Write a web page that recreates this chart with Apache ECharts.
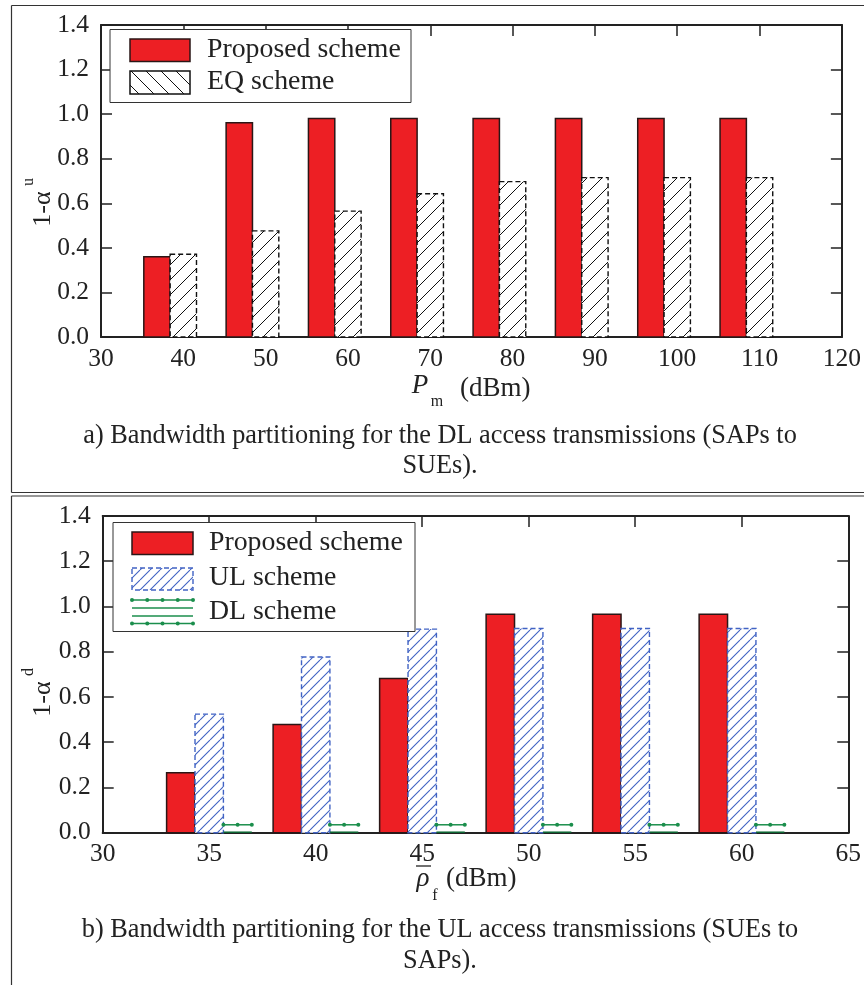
<!DOCTYPE html>
<html>
<head>
<meta charset="utf-8">
<script src="https://cdn.jsdelivr.net/npm/echarts@6/dist/echarts.min.js"></script>
<style>
  html, body { margin: 0; padding: 0; background: #fff; }
  #chart { width: 864px; height: 985px; }
</style>
</head>
<body>
<div id="chart"></div>
<script>
// (a) DL access: transmit power levels and bandwidth fraction per scheme
const pmLevels = [40, 50, 60, 70, 80, 90, 100, 110];
const proposedDL = [0.36, 0.961, 0.981, 0.981, 0.981, 0.981, 0.981, 0.981];
const eqDL = [0.371, 0.476, 0.565, 0.643, 0.697, 0.715, 0.715, 0.715];

// (b) UL access: average SUE power and bandwidth fraction per scheme
const rhoLevels = [35, 40, 45, 50, 55, 60];
const proposedUL = [0.265, 0.478, 0.682, 0.966, 0.966, 0.966];
const ulScheme = [0.524, 0.777, 0.9, 0.903, 0.903, 0.903];
const dlScheme = [0.035, 0.035, 0.035, 0.035, 0.035, 0.035];

// axis ranges
const xTicksA = { min: 30, max: 120, step: 10 };
const xTicksB = { min: 30, max: 65, step: 5 };
const yTicks = { min: 0, max: 1.4, step: 0.2 };

const FONT = '"Liberation Serif", "Times New Roman", serif';
const RED = '#ED1F24';
const RED_EDGE = '#2a1616';
const BLUE = '#4163C4';
const GREEN = '#1B8E4C';
const GREEN_DARK = '#0F6A36';
const INK = '#222';

function hatch(color, size, dir, lw) {
  const c = document.createElement('canvas');
  c.width = size; c.height = size;
  const g = c.getContext('2d');
  g.fillStyle = '#fff';
  g.fillRect(0, 0, size, size);
  g.strokeStyle = color;
  g.lineWidth = lw;
  g.beginPath();
  for (let k = -1; k <= 1; k++) {
    if (dir === '/') { g.moveTo(k * size, size); g.lineTo(k * size + size, 0); }
    else { g.moveTo(k * size, 0); g.lineTo(k * size + size, size); }
  }
  g.stroke();
  return { type: 'pattern', image: c, repeat: 'repeat' };
}

const eqHatch = hatch('#111', 15, '/', 1);
const eqHatchLegend = hatch('#111', 15, '\\', 1);
const ulHatch = hatch(BLUE, 10, '/', 1.1);

// One grouped-bar series: each group has 3 slots of width w (data units) centred on x
function barSeries(levels, values, slot, w, gridIdx, kind) {
  return {
    type: 'custom',
    xAxisIndex: gridIdx * 2,
    yAxisIndex: gridIdx * 2,
    z: 5,
    data: levels.map((x, i) => [x, values[i]]),
    encode: { x: 0, y: 1 },
    renderItem: function (params, api) {
      const x = api.value(0), v = api.value(1);
      const p0 = api.coord([x + (slot - 1.5) * w, 0]);
      const p1 = api.coord([x + (slot - 0.5) * w, v]);
      const rx = p0[0], ry = p1[1], rw = p1[0] - p0[0], rh = p0[1] - p1[1];
      if (kind === 'solid') {
        return { type: 'rect', shape: { x: rx, y: ry, width: rw, height: rh },
          style: { fill: RED, stroke: RED_EDGE, lineWidth: 1.5 } };
      }
      if (kind === 'eq') {
        return { type: 'rect', shape: { x: rx, y: ry, width: rw, height: rh },
          style: { fill: eqHatch, stroke: '#111', lineWidth: 1.4, lineDash: [5, 3] } };
      }
      if (kind === 'ul') {
        return { type: 'rect', shape: { x: rx, y: ry, width: rw, height: rh },
          style: { fill: ulHatch, stroke: BLUE, lineWidth: 1.4, lineDash: [5, 3] } };
      }
      // DL scheme: short green hatched bar
      const mid = rx + rw / 2;
      return {
        type: 'group',
        children: [
          { type: 'line', shape: { x1: rx, y1: ry, x2: rx + rw, y2: ry }, style: { stroke: GREEN, lineWidth: 1.5 } },
          { type: 'line', shape: { x1: rx, y1: p0[1] - 0.5, x2: rx + rw, y2: p0[1] - 0.5 }, style: { stroke: GREEN_DARK, lineWidth: 1.5 } },
          { type: 'circle', shape: { cx: rx, cy: ry, r: 2 }, style: { fill: GREEN } },
          { type: 'circle', shape: { cx: mid, cy: ry, r: 2 }, style: { fill: GREEN } },
          { type: 'circle', shape: { cx: rx + rw, cy: ry, r: 2 }, style: { fill: GREEN } }
        ]
      };
    }
  };
}

function axisPair(range, gridIdx, isX) {
  const common = {
    type: 'value', gridIndex: gridIdx,
    min: range.min, max: range.max, interval: range.step,
    splitLine: { show: false },
    axisLine: { show: true, onZero: false, lineStyle: { color: INK, width: 2 } },
    axisTick: { show: true, inside: true, length: 11, lineStyle: { color: INK, width: 1.5 } }
  };
  const main = Object.assign({}, common, {
    position: isX ? 'bottom' : 'left',
    axisLabel: {
      show: true, fontFamily: FONT, fontSize: 25.5, color: INK, margin: isX ? 9 : 12,
      formatter: isX ? (v) => String(v) : (v) => v.toFixed(1)
    }
  });
  const mirror = Object.assign({}, common, {
    position: isX ? 'top' : 'right',
    axisLabel: { show: false }
  });
  return [main, mirror];
}

const xAxes = [...axisPair(xTicksA, 0, true), ...axisPair(xTicksB, 1, true)];
const yAxes = [...axisPair(yTicks, 0, false), ...axisPair(yTicks, 1, false)];

function txt(text, x, y, size, opts) {
  opts = opts || {};
  return {
    type: 'text', x: x, y: y, rotation: opts.rotation || 0, z: 20,
    style: {
      text: text, fill: INK,
      font: (opts.italic ? 'italic ' : '') + size + 'px ' + FONT,
      textAlign: opts.align || 'left', align: opts.align || 'left',
      textVerticalAlign: 'middle', verticalAlign: 'middle'
    }
  };
}
function line(x1, y1, x2, y2, color, w, dash) {
  return { type: 'line', z: 20, shape: { x1, y1, x2, y2 },
    style: { stroke: color, lineWidth: w, lineDash: dash || null } };
}

const graphics = [
  // panel frames
  line(11.5, 5.5, 864, 5.5, '#333', 1.2),
  line(11.5, 5.5, 11.5, 492.5, '#333', 1.2),
  line(11.5, 492.5, 864, 492.5, '#333', 1.2),
  line(11.5, 496, 864, 496, '#333', 1.2),
  line(11.5, 496, 11.5, 985, '#333', 1.2),

  // legend (a)
  { type: 'rect', z: 18, shape: { x: 110, y: 29.5, width: 301, height: 73 }, style: { fill: '#fff', stroke: '#333', lineWidth: 1 } },
  { type: 'rect', z: 19, shape: { x: 130, y: 39, width: 60, height: 22.5 }, style: { fill: RED, stroke: RED_EDGE, lineWidth: 1.5 } },
  { type: 'rect', z: 19, shape: { x: 130, y: 71, width: 60, height: 23 }, style: { fill: eqHatchLegend, stroke: '#111', lineWidth: 1.5 } },
  txt('Proposed scheme', 207, 50, 27.8),
  txt('EQ scheme', 207, 82, 27.8),

  // legend (b)
  { type: 'rect', z: 18, shape: { x: 113, y: 522.5, width: 302, height: 109 }, style: { fill: '#fff', stroke: '#333', lineWidth: 1 } },
  { type: 'rect', z: 19, shape: { x: 132, y: 532, width: 61, height: 22.5 }, style: { fill: RED, stroke: RED_EDGE, lineWidth: 1.5 } },
  { type: 'rect', z: 19, shape: { x: 132, y: 568, width: 61, height: 22 }, style: { fill: ulHatch, stroke: BLUE, lineWidth: 1.4, lineDash: [5, 3] } },
  line(132, 600, 193, 600, GREEN, 1.5),
  line(132, 608, 193, 608, GREEN, 1.5),
  line(132, 616, 193, 616, GREEN, 1.5),
  line(132, 623.5, 193, 623.5, GREEN, 1.5),
  txt('Proposed scheme', 209, 543, 27.8),
  txt('UL scheme', 209, 578, 27.8),
  txt('DL scheme', 209, 612, 27.8),

  // axis titles (a)
  txt('1-α', 43, 209, 26, { rotation: Math.PI / 2, align: 'center' }),
  txt('u', 29, 182, 16, { rotation: Math.PI / 2, align: 'center' }),
  txt('P', 420, 386, 27, { italic: true, align: 'center' }),
  txt('m', 437, 402, 16, { align: 'center' }),
  txt('(dBm)', 460, 389, 27),

  // axis titles (b)
  txt('1-α', 43, 699, 26, { rotation: Math.PI / 2, align: 'center' }),
  txt('d', 29, 672, 16, { rotation: Math.PI / 2, align: 'center' }),
  txt('ρ', 423, 879, 27, { italic: true, align: 'center' }),
  line(416, 866, 431, 866, INK, 1.3),
  txt('f', 435, 896, 16, { align: 'center' }),
  txt('(dBm)', 446, 879, 27),

  // captions
  txt('a) Bandwidth partitioning for the DL access transmissions (SAPs to', 440, 436, 26.3, { align: 'center' }),
  txt('SUEs).', 440, 466, 26.3, { align: 'center' }),
  txt('b) Bandwidth partitioning for the UL access transmissions (SUEs to', 440, 930, 26.3, { align: 'center' }),
  txt('SAPs).', 440, 961, 26.3, { align: 'center' })
];

// legend dots on the DL-scheme swatch
[132, 147.25, 162.5, 177.75, 193].forEach(function (cx) {
  graphics.push({ type: 'circle', z: 19, shape: { cx: cx, cy: 600, r: 2 }, style: { fill: GREEN } });
  graphics.push({ type: 'circle', z: 19, shape: { cx: cx, cy: 623.5, r: 2 }, style: { fill: GREEN } });
});

const chart = echarts.init(document.getElementById('chart'), null, { renderer: 'canvas' });
chart.setOption({
  animation: false,
  backgroundColor: '#fff',
  grid: [
    { left: 101, top: 25, width: 742, height: 312 },
    { left: 102.7, top: 516, width: 746, height: 316.7 }
  ],
  xAxis: xAxes,
  yAxis: yAxes,
  series: [
    barSeries(pmLevels, proposedDL, 0, 3.2, 0, 'solid'),
    barSeries(pmLevels, eqDL, 1, 3.2, 0, 'eq'),
    barSeries(rhoLevels, proposedUL, 0, 4 / 3, 1, 'solid'),
    barSeries(rhoLevels, ulScheme, 1, 4 / 3, 1, 'ul'),
    barSeries(rhoLevels, dlScheme, 2, 4 / 3, 1, 'dl')
  ],
  graphic: graphics
});
</script>
</body>
</html>
